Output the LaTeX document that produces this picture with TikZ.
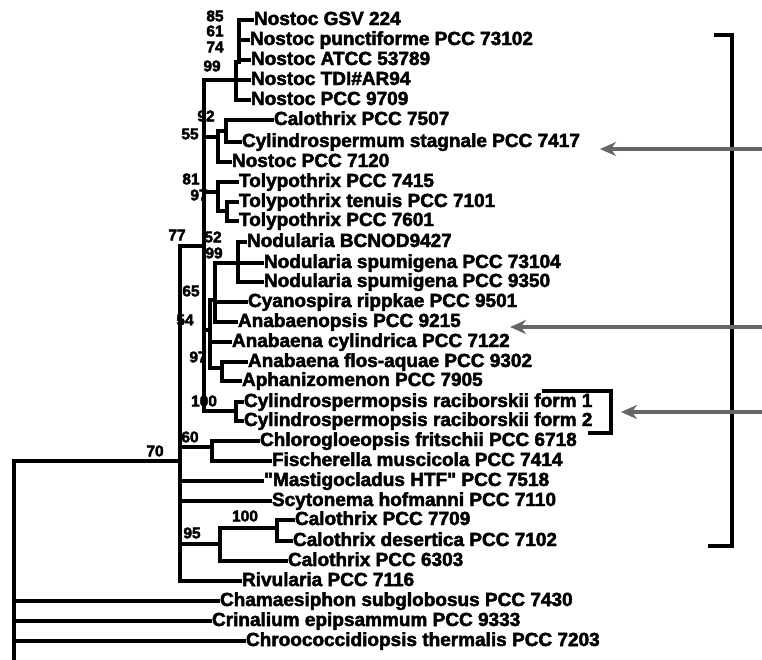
\documentclass[tikz,border=0pt]{standalone}
\usepackage{fontspec}
\setmainfont{Liberation Sans}
\newfontfamily\heavyfont[BoldFeatures={FakeBold=2.5}]{Liberation Sans}
\usetikzlibrary{arrows.meta}
\newcommand{\taxfont}{\heavyfont\fontsize{19}{20}\selectfont\bfseries}
\newcommand{\bootfont}{\heavyfont\fontsize{15.5}{16}\selectfont\bfseries}

\begin{document}
\begin{tikzpicture}[x=1pt, y=-1pt,
  taxon/.style={anchor=west, inner sep=0pt, outer sep=2pt, text height=14pt,
                text depth=4pt, font=\taxfont},
  boot/.style={inner sep=0pt, font=\bootfont},
  branch/.style={line width=3.2pt, line cap=rect},
  pointer/.style={line width=4.2pt, black!60, -{Stealth[length=16pt, width=14pt]}},
]
  \useasboundingbox (0,0) rectangle (762,659);

  \node[taxon] (t1)  at (252,20)  {Nostoc GSV 224};
  \node[taxon] (t2)  at (248,40)  {Nostoc punctiforme PCC 73102};
  \node[taxon] (t3)  at (249,60)  {Nostoc ATCC 53789};
  \node[taxon] (t4)  at (249,80)  {Nostoc TDI\#AR94};
  \node[taxon] (t5)  at (249,100) {Nostoc PCC 9709};
  \node[taxon] (t6)  at (272,120) {Calothrix PCC 7507};
  \node[taxon] (t7)  at (240,142) {Cylindrospermum stagnale PCC 7417};
  \node[taxon] (t8)  at (230,162) {Nostoc PCC 7120};
  \node[taxon] (t9)  at (237,182) {Tolypothrix PCC 7415};
  \node[taxon] (t10) at (237,202) {Tolypothrix tenuis PCC 7101};
  \node[taxon] (t11) at (237,221) {Tolypothrix PCC 7601};
  \node[taxon] (t12) at (245,242) {Nodularia BCNOD9427};
  \node[taxon] (t13) at (262,263) {Nodularia spumigena PCC 73104};
  \node[taxon] (t14) at (262,282) {Nodularia spumigena PCC 9350};
  \node[taxon] (t15) at (246,302) {Cyanospira rippkae PCC 9501};
  \node[taxon] (t16) at (236,322) {Anabaenopsis PCC 9215};
  \node[taxon] (t17) at (230,342) {Anabaena cylindrica PCC 7122};
  \node[taxon] (t18) at (246,362) {Anabaena flos-aquae PCC 9302};
  \node[taxon] (t19) at (240,381) {Aphanizomenon PCC 7905};
  \node[taxon] (t20) at (242,402) {Cylindrospermopsis raciborskii form 1};
  \node[taxon] (t21) at (242,421) {Cylindrospermopsis raciborskii form 2};
  \node[taxon] (t22) at (258,441) {Chlorogloeopsis fritschii PCC 6718};
  \node[taxon] (t23) at (270,461) {Fischerella muscicola PCC 7414};
  \node[taxon] (t24) at (262,481) {"Mastigocladus HTF" PCC 7518};
  \node[taxon] (t25) at (270,501) {Scytonema hofmanni PCC 7110};
  \node[taxon] (t26) at (293,520) {Calothrix PCC 7709};
  \node[taxon] (t27) at (291,541) {Calothrix desertica PCC 7102};
  \node[taxon] (t28) at (286,561) {Calothrix PCC 6303};
  \node[taxon] (t29) at (240,581) {Rivularia PCC 7116};
  \node[taxon] (t30) at (218,601) {Chamaesiphon subglobosus PCC 7430};
  \node[taxon] (t31) at (210,621) {Crinalium epipsammum PCC 9333};
  \node[taxon] (t32) at (244,641) {Chroococcidiopsis thermalis PCC 7203};

  \coordinate (root)    at (14,461);
  \coordinate (rootend) at (14,659);
  \coordinate (n70)  at (180,461);
  \coordinate (n77)  at (204,246);
  \coordinate (nA)   at (236,80);
  \coordinate (nA1)  at (239,62);
  \coordinate (n55)  at (218,137);
  \coordinate (nB)   at (226,131);
  \coordinate (nT)   at (218,192);
  \coordinate (nT1)  at (227,211);
  \coordinate (n52)  at (210,330);
  \coordinate (n65)  at (215,300);
  \coordinate (nNod) at (238,263);
  \coordinate (n97)  at (222,368);
  \coordinate (nCyl) at (236,411);
  \coordinate (n60)  at (212,447);
  \coordinate (n95)  at (220,544);
  \coordinate (n100) at (277,528);

  \draw[branch] (rootend) -- (root) -- (n70)
    (root) |- (t30) (root) |- (t31) (root) |- (t32);
  \draw[branch] (n70) |- (n77) (n70) |- (n60) (n70) |- (t24)
    (n70) |- (t25) (n70) |- (n95) (n70) |- (t29);
  \draw[branch] (n77) |- (nA) (n77) |- (n55) (n77) |- (nT)
    (n77) |- (n52) (n77) |- (nCyl);
  \draw[branch] (nA) |- (nA1) (nA) |- (t4) (nA) |- (t5)
    (nA1) |- (t1) (nA1) |- (t2) (nA1) |- (t3);
  \draw[branch] (n55) |- (nB) (n55) |- (t8) (nB) |- (t6) (nB) |- (t7);
  \draw[branch] (nT) |- (t9) (nT) |- (nT1) (nT1) |- (t10) (nT1) |- (t11);
  \draw[branch] (n52) |- (n65) (n52) |- (t17) (n52) |- (n97)
    (n65) |- (nNod) (n65) |- (t15) (n65) |- (t16)
    (nNod) |- (t12) (nNod) |- (t13) (nNod) |- (t14)
    (n97) |- (t18) (n97) |- (t19);
  \draw[branch] (nCyl) |- (t20) (nCyl) |- (t21);
  \draw[branch] (n60) |- (t22) (n60) |- (t23);
  \draw[branch] (n95) |- (n100) (n95) |- (t28) (n100) |- (t26) (n100) |- (t27);

  \node[boot] (b85)   at (215,16)  {85};
  \node[boot] (b61)   at (215,31)  {61};
  \node[boot] (b74)   at (215,47)  {74};
  \node[boot] (b99a)  at (212,66)  {99};
  \node[boot] (b92)   at (206,116) {92};
  \node[boot] (b55)   at (190,134) {55};
  \node[boot] (b81)   at (191,179) {81};
  \node[boot] (b97a)  at (199,195) {97};
  \node[boot] (b77)   at (177,235) {77};
  \node[boot] (b52)   at (213,237) {52};
  \node[boot] (b99b)  at (214,253) {99};
  \node[boot] (b65)   at (191,291) {65};
  \node[boot] (b54)   at (185,320) {54};
  \node[boot] (b97b)  at (198,357) {97};
  \node[boot] (b100a) at (204,401) {100};
  \node[boot] (b60)   at (190,437) {60};
  \node[boot] (b70)   at (155,451) {70};
  \node[boot] (b100b) at (245,516) {100};
  \node[boot] (b95)   at (192,533) {95};

  \draw[branch] (544,391) -| (611,433) -- (590,433);
  \draw[line width=3.2pt] (714,35) -| (732,546) -- (708,546);

  \coordinate (tail1) at (762,149);
  \coordinate (tip1)  at (600,149);
  \coordinate (tail2) at (762,327);
  \coordinate (tip2)  at (510,327);
  \coordinate (tail3) at (762,412);
  \coordinate (tip3)  at (621,412);
  \draw[pointer] (tail1) -- (tip1);
  \draw[pointer] (tail2) -- (tip2);
  \draw[pointer] (tail3) -- (tip3);
\end{tikzpicture}
\end{document}
